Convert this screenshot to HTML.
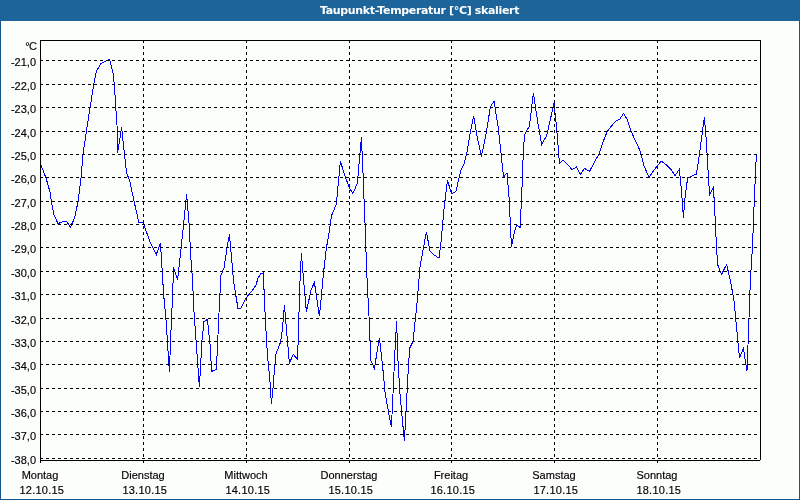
<!DOCTYPE html>
<html><head><meta charset="utf-8"><title>Taupunkt-Temperatur</title>
<style>
html,body{margin:0;padding:0;background:#fff;}
body{width:800px;height:500px;position:relative;overflow:hidden;font-family:"Liberation Sans",sans-serif;font-size:11px;color:#000;-webkit-text-stroke:0.15px #000;}
#win{position:absolute;left:0;top:0;width:798px;height:499px;border:1px solid #14558e;border-top:none;background:#fff;}
#pan{position:absolute;left:1px;top:21px;width:797px;height:477px;background:#fcfefb;}
#title{-webkit-text-stroke:0;position:absolute;left:0;top:0;width:800px;height:21px;background:#1c6499;color:#fff;font-weight:bold;font-size:11px;line-height:21px;}
#title span{position:absolute;left:320px;top:0px;white-space:nowrap;font-family:"DejaVu Sans","Liberation Sans",sans-serif;font-size:11px;letter-spacing:-0.34px;}
svg{position:absolute;left:0;top:0;}
.yl{position:absolute;left:0;width:36px;text-align:right;line-height:13px;height:13px;white-space:nowrap;}
.xl{position:absolute;width:101px;text-align:center;top:468px;line-height:15px;white-space:nowrap;}
#unit{position:absolute;left:0;width:37px;text-align:right;top:40px;line-height:13px;}
.dt{top:483px;letter-spacing:0.25px;}
</style></head><body>
<div id="win"></div><div id="pan"></div>
<div id="title"><span>Taupunkt-Temperatur [°C] skaliert</span></div>
<svg width="800" height="500" viewBox="0 0 800 500">
<polyline fill="none" stroke="#0000ff" stroke-width="1" shape-rendering="crispEdges" points="40.5,163.5 41,165 46,178 50,192 52,205 54,215 58,223.6 62,222 66.4,221.4 70.4,227 74.4,218.5 78,202 81,178 83,154 88,121 90,108 94,83 96.4,71 101,63.6 106,61 109.6,59.4 113,73 114.4,85 115.6,105 117,125 117.6,153 121.6,127.4 124,150 126.4,172 130,182 134,201 139,223 143,222 150,242 156.4,254.4 160.4,242.6 162,268 163.6,294 166,320 169.4,371.6 171,330 172.4,300 173.6,267.5 177.6,280 181,249 184,220 186.6,194 189,223 191,260 192.6,280 193.6,306 196.4,346 199.4,387.4 201,358 202,340 204,321.4 207.4,319.4 210,344 211.6,371.4 216.4,369.4 218,335 219.4,304 221,275 224,268 227,248 229.4,234.4 231.4,256 233.4,280 235.6,294 238,308.4 241,308.4 246,298 252,291 256,285 258,278 261,273.6 263.4,273 264.4,300 266,331 267.4,354 270,382 271.4,404.4 273,388 274.4,370 276,354 280.6,342 282.4,329 284.4,305 286.4,329 287.6,342 289.4,363 293.4,354.4 297.4,359.4 298.6,331 299.4,294 301.4,253.4 303,273 306.4,312 311,290 314.4,282.4 317,300 319.4,316.4 321,300 323.6,272 326.4,248 329.5,230 331.4,216 336.4,204 338.4,182 340.4,161.4 345,176 349.4,188 353,193.4 357.4,183 359.4,160 361.4,137.4 363,173 364,199 365.3,230 366.6,270 368,298 369.6,327 370.6,360 374.4,368.4 379.4,337.6 382.6,366 385,392 387,404 391.4,427.4 393,394 395,350 396.6,321 398,361 400,394 404.4,441.4 406.4,404 408.7,361 410,347.6 413,341.6 416,313 417.4,299 420,267 423,250 426.4,232 430,251 434,255 439,258 441,242 443,220 444,209 447.4,180.6 451.6,193.6 456,191.4 459.4,176 461,170 464.4,163 467,152 470,134 473.6,116 477.4,138 481.4,156.4 486,134 490.4,107 494,101 498,126 501,153 503.5,177 507,173 509,197 510.4,224 511.4,246.5 514,234 516.4,225.2 520.2,227.4 521.4,201 522.4,179 523,160 524.4,135 529.4,126 533.4,93 537.4,120 541.6,144.4 546.6,136 550,121 554,103 556.6,128 559.5,163.4 563,160 568,165 572,169.6 576.4,167 580.5,174.4 584.5,168.4 589.5,171.4 594,163 599,154 603,142 607,132 611.4,126 616,121 619.6,119.4 623.6,113.4 627.4,120 631,131 636,142 640.6,152 644,166 649,177.4 655.5,168 661.2,161.2 666.5,164.8 671,169.5 675,175.5 679.4,169.4 681,186 682.4,202 683.4,218 685,198 687.6,178 692,176 696.2,174.2 698.4,162 700,150 704.4,117 706.4,142 708,170 709.6,195 713.2,188 714.4,202 715.6,230 717.6,264.5 721.5,274.4 726.6,264.5 730.5,281 734,300.5 737,332 739.5,358 743.4,348.5 747,371 748.5,332 750,290 751.5,260 752.5,249 753.6,216 754.8,190 755.6,168 756.5,155.5"/>
<g fill="none" stroke="#000" stroke-width="1" shape-rendering="crispEdges">
<g stroke-dasharray="3 3"><path d="M40 60.5H760"/><path d="M40 84.5H760"/><path d="M40 107.5H760"/><path d="M40 131.5H760"/><path d="M40 154.5H760"/><path d="M40 177.5H760"/><path d="M40 201.5H760"/><path d="M40 224.5H760"/><path d="M40 247.5H760"/><path d="M40 271.5H760"/><path d="M40 294.5H760"/><path d="M40 318.5H760"/><path d="M40 341.5H760"/><path d="M40 364.5H760"/><path d="M40 388.5H760"/><path d="M40 411.5H760"/><path d="M40 434.5H760"/><path d="M40 458.5H760"/><path d="M143.5 40V460"/><path d="M246.5 40V460"/><path d="M349.5 40V460"/><path d="M451.5 40V460"/><path d="M554.5 40V460"/><path d="M657.5 40V460"/></g>
<path d="M40.5 40V460M40 40.5H761M760.5 40V460M40 460.5H760"/>
<path d="M40.5 460V463"/><path d="M143.5 460V463"/><path d="M246.5 460V463"/><path d="M349.5 460V463"/><path d="M451.5 460V463"/><path d="M554.5 460V463"/><path d="M657.5 460V463"/>
</g>
</svg>
<div id="unit"><span style="letter-spacing:-0.6px">°</span>C</div>
<div class="yl" style="top:56px">-21,0</div><div class="yl" style="top:80px">-22,0</div><div class="yl" style="top:103px">-23,0</div><div class="yl" style="top:127px">-24,0</div><div class="yl" style="top:150px">-25,0</div><div class="yl" style="top:173px">-26,0</div><div class="yl" style="top:197px">-27,0</div><div class="yl" style="top:220px">-28,0</div><div class="yl" style="top:243px">-29,0</div><div class="yl" style="top:267px">-30,0</div><div class="yl" style="top:290px">-31,0</div><div class="yl" style="top:314px">-32,0</div><div class="yl" style="top:337px">-33,0</div><div class="yl" style="top:360px">-34,0</div><div class="yl" style="top:384px">-35,0</div><div class="yl" style="top:407px">-36,0</div><div class="yl" style="top:430px">-37,0</div><div class="yl" style="top:454px">-38,0</div>
<div class="xl" style="left:-10.5px">Montag</div><div class="xl dt" style="left:-8.700000000000003px">12.10.15</div><div class="xl" style="left:92.5px">Dienstag</div><div class="xl dt" style="left:94.3px">13.10.15</div><div class="xl" style="left:195.5px">Mittwoch</div><div class="xl dt" style="left:197.3px">14.10.15</div><div class="xl" style="left:298.5px">Donnerstag</div><div class="xl dt" style="left:300.3px">15.10.15</div><div class="xl" style="left:400.5px">Freitag</div><div class="xl dt" style="left:402.3px">16.10.15</div><div class="xl" style="left:503.5px">Samstag</div><div class="xl dt" style="left:505.3px">17.10.15</div><div class="xl" style="left:606.5px">Sonntag</div><div class="xl dt" style="left:608.3px">18.10.15</div>
</body></html>
